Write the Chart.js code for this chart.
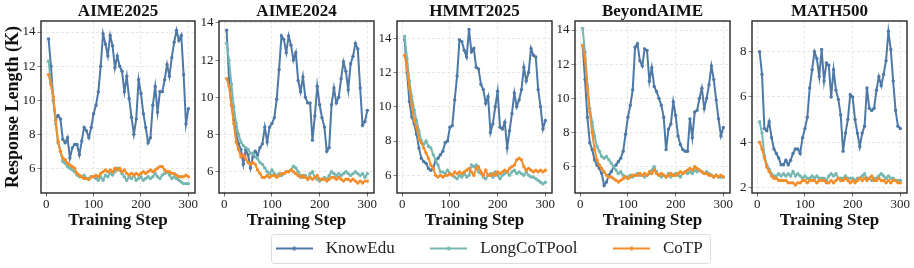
<!DOCTYPE html>
<html><head><meta charset="utf-8">
<script src="https://cdn.jsdelivr.net/npm/chart.js@4.4.1/dist/chart.umd.min.js"></script>
<style>
html,body{margin:0;padding:0;background:#fff;}
#wrap{position:relative;width:914px;height:268px;overflow:hidden;background:#fff;}
#wrap canvas{position:absolute;}
</style></head><body><div id="wrap"></div>
<script>
// ---------------- data ----------------
const seriesNames = ['KnowEdu', 'LongCoTPool', 'CoTP'];
const panelTitles = ['AIME2025', 'AIME2024', 'HMMT2025', 'BeyondAIME', 'MATH500'];
const yAxisLabel = 'Response Length (K)';
const xAxisLabel = 'Training Step';
const steps = [5,10,15,20,25,30,35,40,45,50,55,60,65,70,75,80,85,90,95,100,
  105,110,115,120,125,130,135,140,145,150,155,160,165,170,175,180,185,190,195,200,
  205,210,215,220,225,230,235,240,245,250,255,260,265,270,275,280,285,290,295,300];
const xTicks = [0, 100, 200, 300];
const yTicksMain = [6, 8, 10, 12, 14];
const yTicksMath = [2, 4, 6, 8];
const xRange = [-11, 314];
const yRanges = [[4.55, 14.65], [4.86, 14.1], [4.97, 15.0], [4.46, 14.53], [1.75, 9.36]];

const aime25KnowEdu = [13.6,12.0,10.0,8.9,9.1,8.9,7.7,7.5,7.8,6.6,
  7.2,7.4,7.4,6.8,7.6,8.4,8.2,7.8,8.4,9.2,
  9.7,10.5,12.0,13.9,13.3,12.6,13.8,13.2,11.9,12.6,
  12.0,11.7,10.5,11.4,10.1,9.0,8.0,8.9,11.2,10.4,
  9.2,8.4,7.5,7.8,9.7,10.8,9.3,10.5,10.5,11.2,
  12.1,11.4,12.5,13.4,14.1,13.5,13.8,11.5,8.6,9.5];
const aime25LongCoT = [12.3,11.0,10.0,8.6,7.5,7.0,6.4,6.3,6.1,6.0,
  5.9,5.8,5.6,5.5,5.5,5.6,5.4,5.4,5.5,5.5,
  5.4,5.3,5.5,5.3,5.6,5.5,5.7,5.6,5.8,6.0,
  5.9,5.7,5.5,5.3,5.5,5.4,5.6,5.3,5.4,5.5,
  5.3,5.4,5.5,5.4,5.5,5.7,5.5,5.4,5.6,5.7,
  5.8,5.6,5.4,5.5,5.4,5.3,5.2,5.1,5.1,5.1];
const aime25CoTP = [11.5,10.9,10.2,8.8,7.6,7.0,6.6,6.5,6.3,6.2,
  6.1,6.0,5.7,5.6,5.5,5.4,5.4,5.35,5.5,5.5,
  5.6,5.5,5.7,5.8,5.9,5.8,5.9,5.8,6.0,5.9,
  6.0,5.8,5.9,5.7,5.6,5.7,5.6,5.7,5.6,5.7,
  5.8,5.7,5.8,5.9,5.8,5.9,6.0,6.1,6.1,5.9,
  5.8,5.8,5.7,5.7,5.6,5.5,5.5,5.5,5.6,5.5];

const aime24KnowEdu = [13.6,11.0,9.6,8.8,8.0,7.5,7.2,6.4,7.2,6.9,
  6.2,6.8,7.1,6.9,7.3,7.5,8.4,7.6,8.4,8.6,
  8.9,9.9,11.5,13.3,13.1,12.4,13.3,12.8,12.0,12.4,
  10.9,10.3,11.1,10.0,9.7,9.7,7.7,9.0,10.6,9.6,
  8.9,8.4,7.1,7.3,9.6,10.5,9.7,10.0,11.0,11.9,
  11.4,10.4,11.8,12.2,12.9,12.6,10.5,8.5,8.7,9.3];
const aime24LongCoT = [12.9,12.0,10.7,9.5,8.6,8.0,7.6,7.4,7.3,7.2,
  7.0,7.0,6.8,6.7,6.5,6.4,6.2,6.0,5.9,6.1,
  5.9,5.8,5.9,5.8,5.9,6.0,6.0,6.1,6.3,6.2,
  6.0,5.8,5.7,5.8,5.6,5.9,6.0,5.7,5.6,5.5,
  5.6,5.7,5.6,5.8,6.0,5.9,5.8,5.9,5.8,5.9,
  6.0,5.9,5.8,5.9,6.0,5.9,5.8,5.9,5.7,5.9];
const aime24CoTP = [11.0,10.6,9.6,8.6,7.6,7.2,6.8,6.9,6.7,6.5,
  6.4,6.5,6.4,6.1,5.9,5.7,5.7,5.8,5.7,5.8,
  5.8,5.7,5.8,5.9,5.9,6.0,6.0,6.1,6.0,5.9,
  5.8,5.7,5.8,5.7,5.6,5.7,5.6,5.7,5.8,5.6,
  5.6,5.6,5.5,5.6,5.7,5.7,5.6,5.7,5.6,5.5,
  5.6,5.6,5.5,5.6,5.5,5.4,5.5,5.4,5.5,5.5];

const hmmtKnowEdu = [13.9,12.0,10.3,9.4,9.0,8.4,7.6,7.0,6.8,6.7,
  6.4,6.3,6.4,6.9,7.0,7.2,7.4,7.9,8.0,8.8,
  8.9,10.4,11.8,13.9,13.8,13.3,12.9,14.5,13.2,13.4,
  12.3,12.2,11.3,11.0,10.2,10.6,8.5,9.0,10.0,10.9,
  8.8,8.7,9.1,7.6,8.6,9.6,10.8,10.0,10.4,11.0,
  12.3,11.5,12.0,13.4,13.0,12.9,11.0,10.0,8.7,9.2];
const hmmtLongCoT = [14.1,12.8,11.5,10.6,9.8,9.2,8.6,8.0,7.8,8.0,
  7.7,7.6,7.2,6.9,6.6,6.2,6.2,6.1,6.3,6.1,
  6.0,5.9,5.8,6.0,5.9,6.1,5.9,6.0,6.6,6.5,
  6.6,6.2,6.1,5.9,5.8,6.0,6.1,5.9,6.2,6.0,
  5.8,6.0,6.1,6.2,6.0,6.2,6.3,6.1,6.2,6.1,
  6.0,6.2,6.0,5.9,5.9,5.8,5.7,5.6,5.5,5.6];
const hmmtCoTP = [13.0,12.2,11.1,10.1,9.2,8.8,8.1,7.9,7.6,7.3,
  7.0,6.6,6.4,6.0,5.9,6.0,5.9,6.0,6.0,6.1,
  6.0,6.2,6.1,6.2,6.1,6.2,6.3,6.4,6.2,6.0,
  6.4,6.5,6.2,6.0,6.3,6.0,6.0,6.1,6.0,6.2,
  6.1,6.2,6.3,6.2,6.4,6.5,6.6,6.9,7.0,6.9,
  6.5,6.3,6.4,6.3,6.2,6.3,6.2,6.3,6.2,6.3];

const beyondKnowEdu = [13.1,11.1,8.9,7.4,7.0,6.4,6.1,5.9,5.6,4.9,
  5.1,5.5,5.7,6.0,6.1,6.3,6.5,6.9,7.9,8.9,
  9.6,10.5,13.0,13.2,12.2,11.9,12.9,12.8,11.0,11.8,
  10.7,10.4,10.0,9.6,8.9,7.0,8.2,8.5,9.8,9.0,
  7.8,7.3,7.0,6.9,6.9,8.8,7.7,9.2,9.3,10.0,
  10.6,9.4,10.0,10.8,11.9,11.1,9.9,8.8,7.8,8.3];
const beyondLongCoT = [14.1,12.7,10.8,9.4,8.6,7.8,7.2,6.9,6.6,6.5,
  6.6,6.4,6.2,6.0,5.8,5.6,5.7,5.5,5.4,5.4,
  5.5,5.4,5.5,5.6,5.5,5.5,5.4,5.5,5.6,5.8,
  6.0,5.7,5.5,5.4,5.5,5.4,5.6,5.4,5.5,5.6,
  5.5,5.4,5.6,5.7,5.6,5.7,5.6,5.8,5.7,5.8,
  5.7,5.6,5.7,5.6,5.5,5.4,5.5,5.4,5.4,5.4];
const beyondCoTP = [13.1,12.3,10.6,9.2,8.0,7.0,6.4,6.1,5.9,5.7,
  5.5,5.4,5.4,5.3,5.2,5.1,5.2,5.3,5.4,5.3,
  5.4,5.5,5.5,5.5,5.6,5.5,5.6,5.5,5.7,5.6,
  5.8,5.6,5.5,5.6,5.5,5.4,5.5,5.6,5.5,5.5,
  5.6,5.7,5.6,5.7,5.8,5.9,5.8,6.0,5.9,5.8,
  5.7,5.6,5.6,5.5,5.5,5.4,5.5,5.4,5.5,5.4];

const mathKnowEdu = [8.0,7.0,4.6,4.5,4.9,4.2,3.7,3.5,3.3,3.0,
  3.0,3.2,3.0,3.2,3.5,3.7,3.7,3.5,4.2,4.6,
  5.1,6.4,7.2,8.0,7.7,6.9,8.1,6.7,7.5,7.4,
  6.0,7.2,6.3,5.9,5.2,3.6,4.4,5.0,6.1,6.0,
  5.0,4.4,3.8,4.4,4.7,6.4,5.5,5.4,5.5,6.3,
  6.9,6.5,7.0,7.6,8.9,8.1,6.7,5.4,4.7,4.6];
const mathLongCoT = [4.9,4.4,3.4,3.0,2.8,2.6,2.5,2.5,2.6,2.5,
  2.6,2.5,2.6,2.5,2.7,2.5,2.6,2.5,2.4,2.5,
  2.4,2.4,2.5,2.4,2.5,2.4,2.4,2.4,2.3,2.5,
  2.6,2.5,2.6,2.4,2.4,2.4,2.5,2.4,2.4,2.4,
  2.3,2.4,2.4,2.5,2.6,2.4,2.4,2.3,2.4,2.4,
  2.5,2.6,2.5,2.4,2.5,2.4,2.4,2.3,2.3,2.3];
const mathCoTP = [4.0,3.7,3.3,2.9,2.7,2.5,2.4,2.4,2.3,2.3,
  2.3,2.3,2.2,2.2,2.2,2.1,2.2,2.2,2.3,2.3,
  2.2,2.3,2.3,2.3,2.2,2.3,2.3,2.3,2.2,2.2,
  2.3,2.2,2.3,2.4,2.3,2.3,2.4,2.3,2.2,2.3,
  2.2,2.3,2.4,2.3,2.4,2.3,2.4,2.5,2.3,2.3,
  2.4,2.3,2.3,2.2,2.3,2.2,2.3,2.3,2.2,2.2];

const panelSeries = [
  [aime25KnowEdu, aime25LongCoT, aime25CoTP],
  [aime24KnowEdu, aime24LongCoT, aime24CoTP],
  [hmmtKnowEdu, hmmtLongCoT, hmmtCoTP],
  [beyondKnowEdu, beyondLongCoT, beyondCoTP],
  [mathKnowEdu, mathLongCoT, mathCoTP]
];
const panelYTicks = [yTicksMain, yTicksMain, yTicksMain, yTicksMain, yTicksMath];

// ---------------- style / layout ----------------
const COLORS = ['#4e79a7', '#76b7b2', '#f28e2b'];
const SERIF = "'Liberation Serif', 'Times New Roman', Times, serif";
const plotLeft = [41, 219, 397, 575, 752];
const plotW = [154, 155, 155, 155, 155];
const RIGHT_PAD = 12;
const CANVAS_H = 232;
const X_AXIS_H = 39;

const framePlugin = {
  id: 'frame',
  afterDatasetsDraw(chart) {
    const {ctx, chartArea: a} = chart;
    ctx.save();
    ctx.strokeStyle = '#262626';
    ctx.lineWidth = 1.4;
    ctx.strokeRect(a.left, a.top, a.right - a.left, a.bottom - a.top);
    ctx.restore();
  }
};

const wrap = document.getElementById('wrap');

function mkCanvas(left, top, w, h) {
  const c = document.createElement('canvas');
  c.width = w; c.height = h;
  c.style.left = left + 'px'; c.style.top = top + 'px';
  c.style.width = w + 'px'; c.style.height = h + 'px';
  wrap.appendChild(c);
  return c;
}

const gridStyle = {color: '#e2e2e2', lineWidth: 0.8, drawTicks: true, tickLength: 3.5,
  tickColor: '#444', tickWidth: 0.8, tickBorderDash: [1, 0]};

for (let p = 0; p < 5; p++) {
  const axisW = p === 0 ? 41 : 28;
  const cw = axisW + plotW[p] + RIGHT_PAD;
  const canvas = mkCanvas(plotLeft[p] - axisW, 0, cw, CANVAS_H);
  const order = [2, 1, 0]; // draw CoTP on top
  const datasets = order.map(k => ({
    label: seriesNames[k],
    data: steps.map((s, j) => ({x: s, y: panelSeries[p][k][j]})),
    borderColor: COLORS[k],
    backgroundColor: COLORS[k],
    borderWidth: 2,
    pointRadius: 1.7,
    pointBorderWidth: 0,
    pointHoverRadius: 0,
    tension: 0
  }));
  const yTicks = panelYTicks[p];
  new Chart(canvas, {
    type: 'line',
    data: {datasets},
    options: {
      responsive: false, animation: false, devicePixelRatio: 1, events: [],
      layout: {padding: {left: 0, right: RIGHT_PAD, top: 0, bottom: 0}},
      plugins: {
        legend: {display: false}, tooltip: {enabled: false},
        title: {display: true, fullSize: false, text: panelTitles[p], color: '#111',
          font: {family: SERIF, size: 17, weight: 'bold', lineHeight: 18 / 17},
          padding: {top: 3, bottom: 0}}
      },
      scales: {
        x: {
          type: 'linear', min: xRange[0], max: xRange[1],
          afterBuildTicks: s => { s.ticks = xTicks.map(v => ({value: v})); },
          afterFit: s => { s.height = X_AXIS_H; },
          ticks: {font: {family: SERIF, size: 13}, color: '#222', padding: 0, maxRotation: 0, autoSkip: false},
          grid: gridStyle,
          border: {display: false, dash: [3, 2]},
          title: {display: true, text: xAxisLabel, color: '#111',
            font: {family: SERIF, size: 17, weight: 'bold'}, padding: {top: 0, bottom: 1}}
        },
        y: {
          type: 'linear', min: yRanges[p][0], max: yRanges[p][1],
          afterBuildTicks: s => { s.ticks = yTicks.map(v => ({value: v})); },
          afterFit: s => { s.width = axisW; },
          ticks: {font: {family: SERIF, size: 13}, color: '#222', padding: 2},
          grid: gridStyle,
          border: {display: false, dash: [3, 2]},
          title: {display: p === 0, text: yAxisLabel, color: '#111',
            font: {family: SERIF, size: 18, weight: 'bold'}, padding: {top: 3, bottom: 0}}
        }
      }
    },
    plugins: [framePlugin]
  });
}

// ---------------- shared legend ----------------
function legendIcon(color) {
  const c = document.createElement('canvas');
  c.width = 37; c.height = 8;
  const g = c.getContext('2d');
  g.strokeStyle = color; g.lineWidth = 2;
  g.beginPath(); g.moveTo(0, 4); g.lineTo(37, 4); g.stroke();
  g.fillStyle = color;
  g.beginPath(); g.arc(18.5, 4, 2, 0, Math.PI * 2); g.fill();
  return c;
}
const icons = COLORS.map(legendIcon);

const legendBox = {
  id: 'legendBox',
  afterDraw(chart) {
    const hb = chart.legend.legendHitBoxes;
    if (!hb || !hb.length) return;
    const first = hb[0], last = hb[hb.length - 1];
    const x0 = first.left - 0.5, x1 = last.left + last.width + 7.5;
    const cy = first.top + first.height / 2;
    const ctx = chart.ctx;
    ctx.save();
    ctx.strokeStyle = '#dcdcdc'; ctx.lineWidth = 1;
    ctx.beginPath();
    ctx.roundRect(Math.round(x0) + 0.5, Math.round(cy - 14.5) + 0.5, Math.round(x1 - x0), 29, 3);
    ctx.stroke();
    ctx.restore();
  }
};

const lc = mkCanvas(0, 0, 914, 100);
const legendChart = new Chart(lc, {
  type: 'line',
  data: {datasets: seriesNames.map((n, k) => ({label: n, data: [], borderColor: COLORS[k], backgroundColor: COLORS[k]}))},
  options: {
    responsive: false, animation: false, devicePixelRatio: 1, events: [],
    layout: {padding: 0},
    scales: {x: {display: false}, y: {display: false}},
    plugins: {
      tooltip: {enabled: false},
      legend: {
        display: true, position: 'top',
        labels: {
          usePointStyle: true, pointStyleWidth: 46, padding: 31, color: '#222',
          font: {family: SERIF, size: 17},
          generateLabels: chart => chart.data.datasets.map((d, i) => ({
            text: d.label, pointStyle: icons[i], datasetIndex: i, hidden: false,
            fillStyle: COLORS[i], strokeStyle: COLORS[i], lineWidth: 0, fontColor: '#222'
          }))
        }
      }
    }
  },
  plugins: [legendBox]
});
// place legend so that its first item lines up with the reference position
(function placeLegend() {
  const hb = legendChart.legend.legendHitBoxes;
  if (!hb || !hb.length) return;
  const dx = 271.5 - hb[0].left;
  const dy = 248.5 - (hb[0].top + hb[0].height / 2);
  lc.style.left = dx + 'px';
  lc.style.top = dy + 'px';
})();
</script>
</body></html>
